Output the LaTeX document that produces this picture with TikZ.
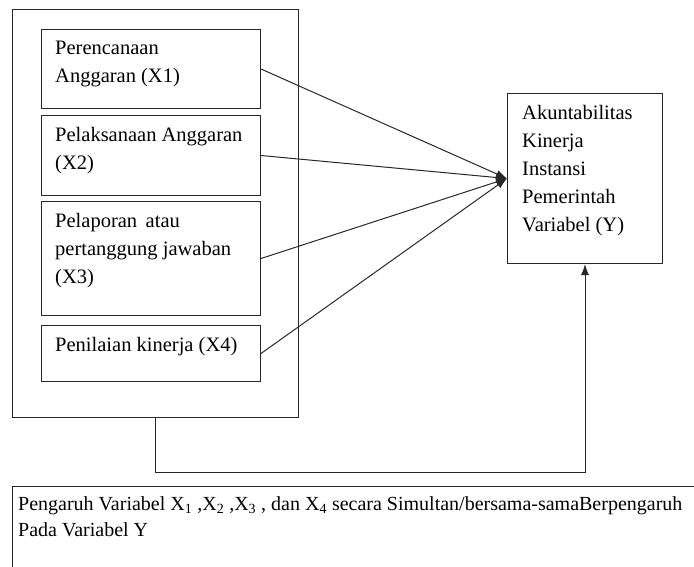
\documentclass[tikz,border=0pt]{standalone}
\usepackage{fontspec}
\setmainfont{Liberation Serif}
\usetikzlibrary{arrows.meta}
\definecolor{linecolor}{RGB}{40,40,40}
\tikzstyle{varbox} = [rectangle, draw=linecolor, line width=1pt,
                      anchor=north west, inner sep=0pt]
\tikzstyle{vartext} = [anchor=north west, align=left,
                       inner xsep=14pt, inner ysep=12pt,
                       font=\fontsize{20.5}{28}\selectfont]
\tikzstyle{arrow} = [line width=1pt, draw=linecolor,
                     -{Latex[length=11pt,width=8pt]}]

\begin{document}
\begin{tikzpicture}[x=1pt, y=-1pt]
        \useasboundingbox (0,0) rectangle (694,567);
        \clip (0,0) rectangle (694,567);

        % independent variables
        \node (group) [varbox, minimum width=286pt, minimum height=408pt] at (12,9) {};

        \node (x1) [varbox, minimum width=219pt, minimum height=79pt] at (41,29) {};
        \node (x1t) [vartext] at (x1.north west) {Perencanaan\\Anggaran (X1)};

        \node (x2) [varbox, minimum width=219pt, minimum height=80pt] at (41,115) {};
        \node (x2t) [vartext] at (x2.north west) {Pelaksanaan Anggaran\\(X2)};

        \node (x3) [varbox, minimum width=219pt, minimum height=114pt] at (41,201) {};
        \node (x3t) [vartext] at (x3.north west) {Pelaporan\, atau\\pertanggung jawaban\\(X3)};

        \node (x4) [varbox, minimum width=219pt, minimum height=56pt] at (41,325) {};
        \node (x4t) [vartext] at (x4.north west) {Penilaian kinerja (X4)};

        % dependent variable
        \node (y) [varbox, minimum width=155pt, minimum height=170pt] at (507,93) {};
        \node (yt) [vartext, inner xsep=15pt] at (y.north west) {Akuntabilitas\\Kinerja\\Instansi\\Pemerintah\\Variabel (Y)};

        % simultaneous effect
        \node (result) [varbox, minimum width=700pt, minimum height=100pt] at (12,486) {};
        \node (resultt) [vartext, inner xsep=6pt, inner ysep=10pt,
                         font=\fontsize{20}{26}\selectfont] at (result.north west)
              {Pengaruh Variabel X\textsubscript{1} ,X\textsubscript{2} ,X\textsubscript{3} , dan X\textsubscript{4} secara Simultan/bersama-samaBerpengaruh\\Pada Variabel Y};

        \draw [arrow] (x1.east) -- (y.west);
        \draw [arrow] (x2.east) -- (y.west);
        \draw [arrow] (x3.east) -- (y.west);
        \draw [arrow] (x4.east) -- (y.west);

        \draw [arrow] (group.south) -- ++(0,54) -| (y.south);

    \end{tikzpicture}
\end{document}
